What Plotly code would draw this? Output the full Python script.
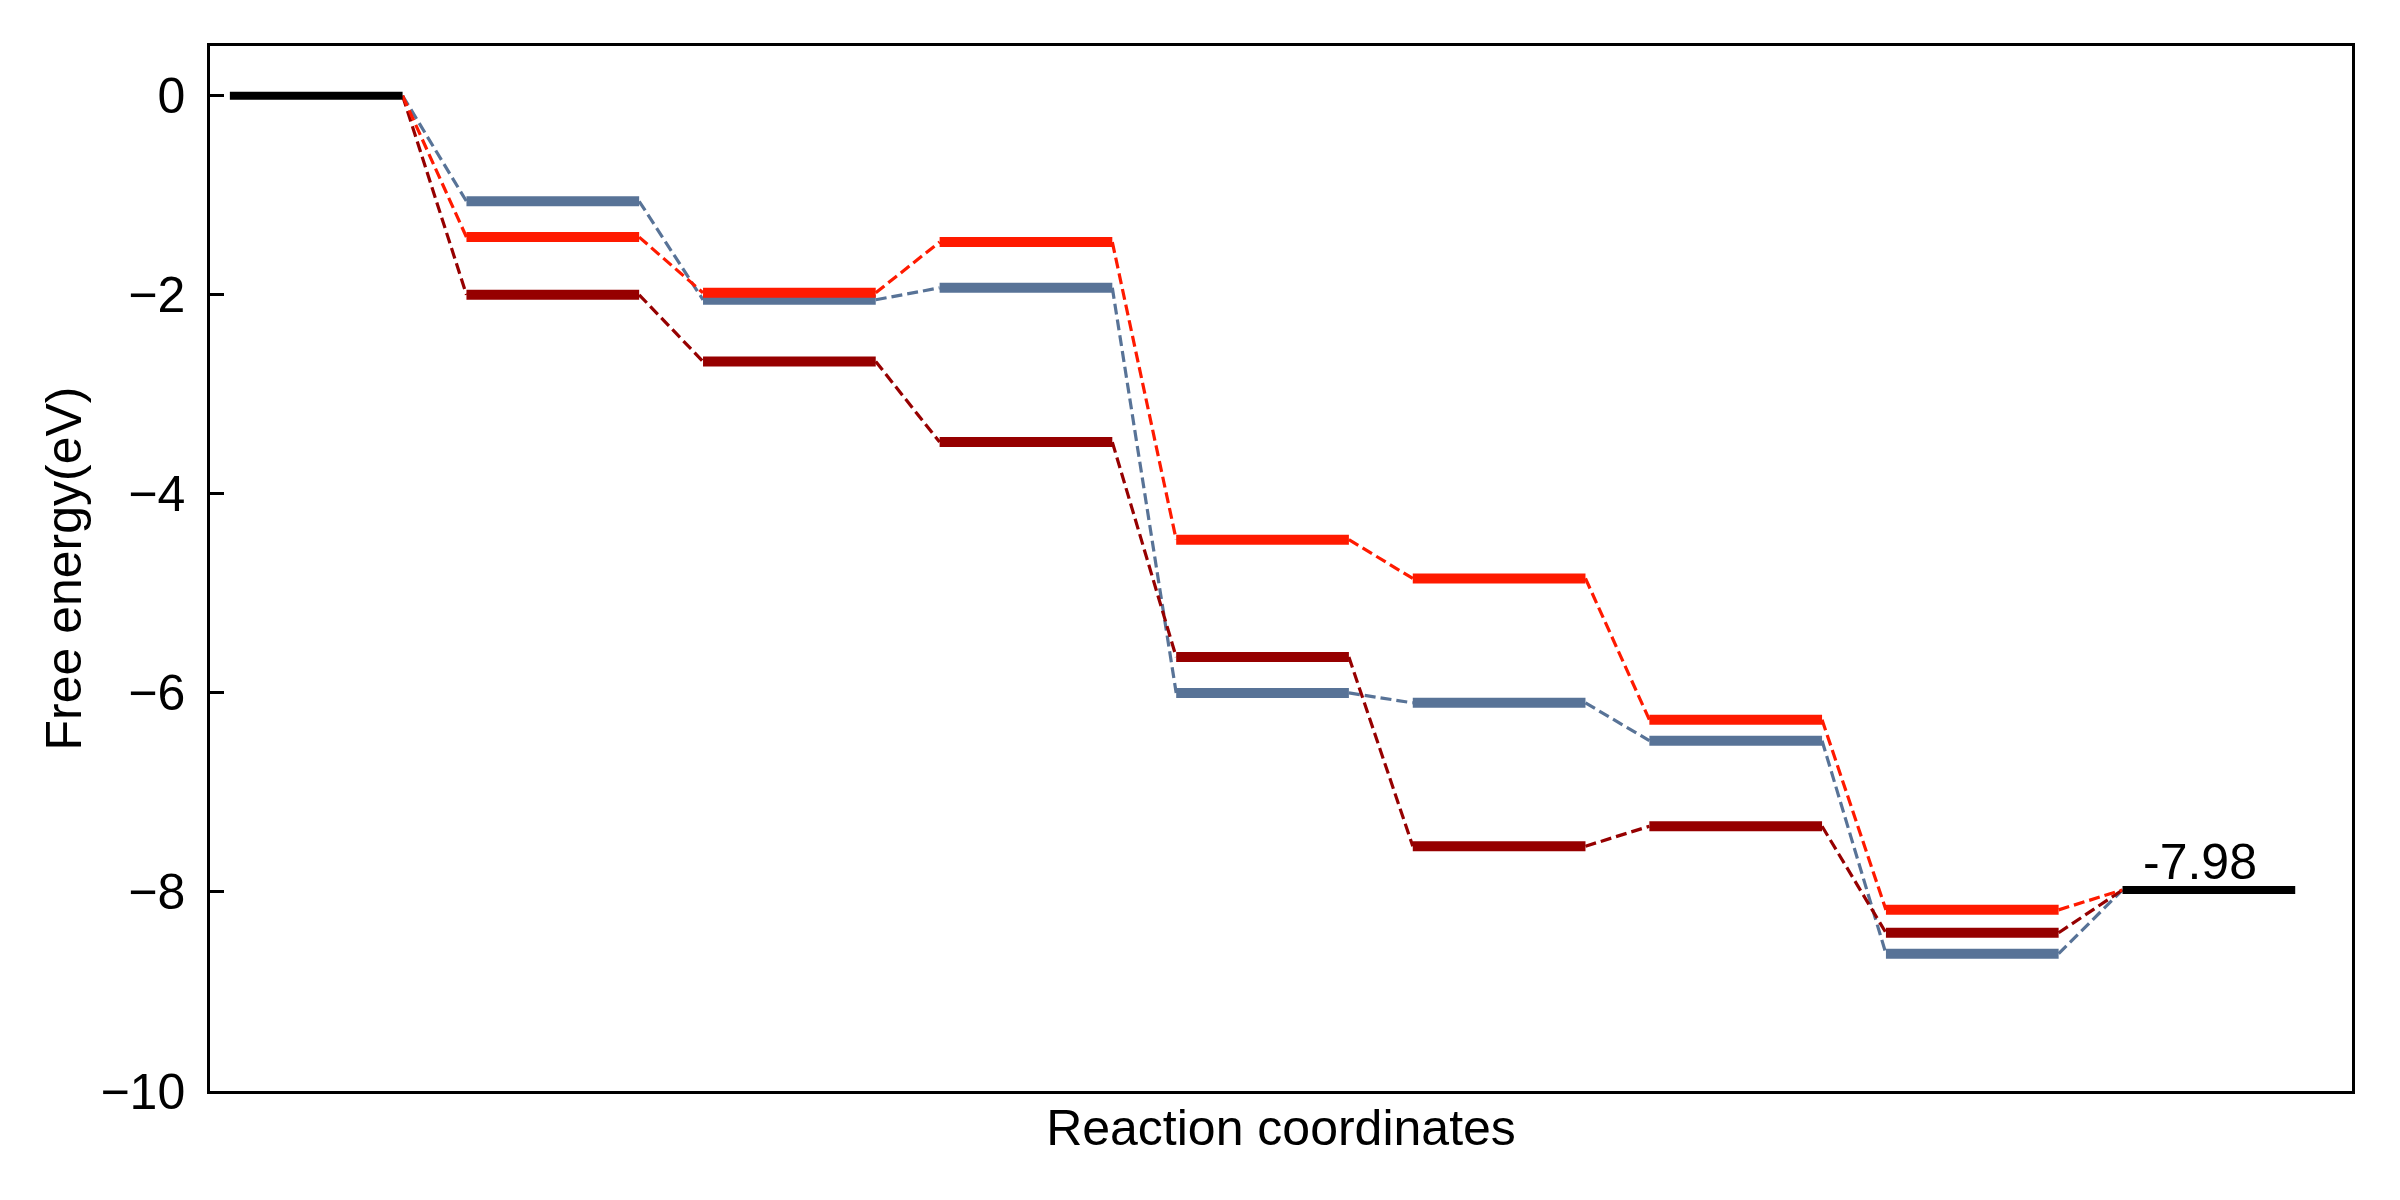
import plotly.graph_objects as go

# ---- data ----
step_labels = ["*", "S1", "S2", "S3", "S4", "S5", "S6", "S7", "final"]
start_energy = 0.0
final_energy = -7.98
red_levels = [-1.42, -1.98, -1.47, -4.46, -4.85, -6.27, -8.18]
blue_levels = [-1.06, -2.05, -1.93, -6.00, -6.10, -6.48, -8.62]
darkred_levels = [-2.00, -2.67, -3.48, -5.64, -7.54, -7.34, -8.41]
y_ticks = [0, -2, -4, -6, -8, -10]

series = [
    ("blue", blue_levels, "#587397"),
    ("darkred", darkred_levels, "#960000"),
    ("red", red_levels, "#ff1a00"),
]

LW = 0.73  # level width in step units
FONT = "Liberation Sans, Arial, sans-serif"

fig = go.Figure()


def level_points(values, start_index):
    xs, ys = [], []
    for k, v in enumerate(values):
        i = start_index + k
        xs += [i, i + LW, None]
        ys += [v, v, None]
    return xs, ys


# dashed connectors
for name, vals, col in series:
    full = [start_energy] + vals + [final_energy]
    xs, ys = [], []
    for k in range(len(full) - 1):
        xs += [k + LW, k + 1, None]
        ys += [full[k], full[k + 1], None]
    fig.add_trace(go.Scatter(x=xs, y=ys, mode="lines",
                             line=dict(color=col, width=3.2, dash="11px,5px"),
                             showlegend=False, hoverinfo="skip"))

# thick levels
for name, vals, col in series:
    xs, ys = level_points(vals, 1)
    fig.add_trace(go.Scatter(x=xs, y=ys, mode="lines",
                             line=dict(color=col, width=10),
                             showlegend=False, name=name))

# black start / end levels
bx, by = level_points([start_energy], 0)
ex, ey = level_points([final_energy], len(step_labels) - 1)
fig.add_trace(go.Scatter(x=bx + ex, y=by + ey, mode="lines",
                         line=dict(color="black", width=8),
                         showlegend=False))

fig.add_annotation(x=len(step_labels) - 1 + 0.08, y=final_energy,
                   text=f"{final_energy:.2f}", showarrow=False,
                   xanchor="left", yanchor="bottom", yshift=-2,
                   font=dict(family=FONT, size=50, color="black"))

fig.update_layout(
    width=2400, height=1200,
    margin=dict(l=202, r=56, t=38, b=117),
    paper_bgcolor="white", plot_bgcolor="white",
    font=dict(family=FONT, size=50, color="black"),
    xaxis=dict(range=[-0.084, 8.97], showticklabels=False, ticks="",
               showgrid=False, zeroline=False, showline=True, mirror=True,
               linecolor="black", linewidth=2.5,
               title=dict(text="Reaction coordinates", standoff=18,
                          font=dict(family=FONT, size=50))),
    yaxis=dict(range=[-10, 0.5], tickvals=y_ticks,
               ticks="inside", ticklen=14, tickwidth=2.5, tickcolor="black",
               ticklabelstandoff=12,
               showgrid=False, zeroline=False, showline=True, mirror=True,
               linecolor="black", linewidth=2.5,
               title=dict(text="Free energy(eV)", standoff=3,
                          font=dict(family=FONT, size=50))),
)

fig.write_html("out.html")
